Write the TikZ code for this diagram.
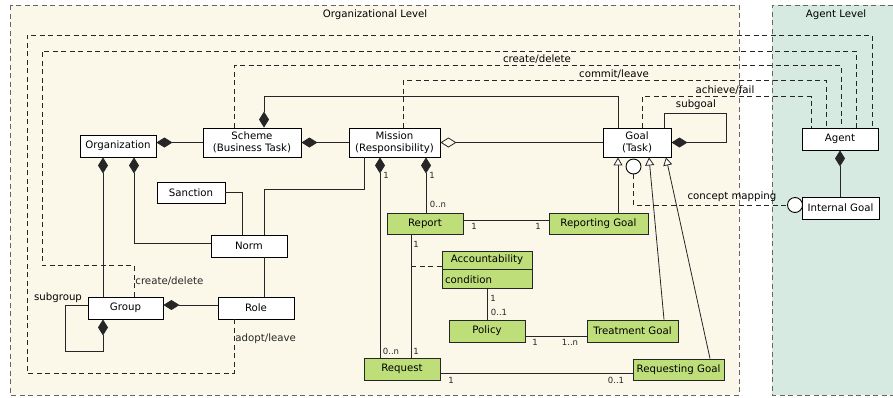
\documentclass[tikz,border=0pt]{standalone}
\usepackage{fontspec}
\setmainfont{DejaVu Sans}
\usetikzlibrary{arrows.meta}
\definecolor{orgbg}{RGB}{251,248,234}
\definecolor{agentbg}{RGB}{214,234,226}
\definecolor{umlgreen}{RGB}{190,222,122}
\begin{document}
\begin{tikzpicture}[x=1pt, y=-1pt, font=\fontsize{10.2}{12}\selectfont,
		box/.style={draw, line width=0.9pt, fill=white, inner sep=1pt, align=center},
		gbox/.style={box, fill=umlgreen, draw=black!85},
		lbl/.style={inner sep=1pt},
		mult/.style={inner sep=0.5pt, font=\fontsize{8.5}{9}\selectfont, black!85},
		link/.style={line width=0.8pt, black!85},
		dlink/.style={link, dash pattern=on 5pt off 3.5pt},
		frame/.style={line width=0.9pt, black!60, dash pattern=on 5pt off 3.5pt},
		comp/.style={link, arrows={Diamond[length=16pt,width=10pt]-}},
		agg/.style={link, arrows={Diamond[open,length=16pt,width=10pt]-}},
		inh/.style={link, arrows={-Triangle[length=8pt,width=9pt,fill=white]}},
		port/.style={circle, draw, line width=0.9pt, fill=white, minimum size=15pt, inner sep=0pt}]
		\useasboundingbox (0,0) rectangle (893,397);

		\fill[orgbg] (10,5) rectangle (739,395);
		\draw[frame] (10,5) rectangle (739,395);
		\fill[agentbg] (772,5) rectangle (893,395);
		\draw[frame] (893,5) -- (772,5) -- (772,395) -- (893,395);
		\node[lbl] (orglevel) at (375,15) {Organizational Level};
		\node[lbl] (agentlevel) at (836,15) {Agent Level};

		\node[box, minimum width=76pt, minimum height=22pt] (org) at (118,146) {Organization};
		\node[box, minimum width=98pt, minimum height=29pt] (scheme) at (252,142.5) {Scheme\\(Business Task)};
		\node[box, minimum width=91pt, minimum height=29pt] (mission) at (394.5,142.5) {Mission\\(Responsibility)};
		\node[box, minimum width=68pt, minimum height=29pt] (goal) at (637,142.5) {Goal\\(Task)};
		\node[box, minimum width=76pt, minimum height=22pt] (agent) at (840,139) {Agent};
		\node[box, minimum width=77pt, minimum height=22pt] (intgoal) at (840.5,208) {Internal Goal};
		\node[box, minimum width=68pt, minimum height=21pt] (sanction) at (191,192.5) {Sanction};
		\node[box, minimum width=76pt, minimum height=22pt] (norm) at (249,246) {Norm};
		\node[box, minimum width=75pt, minimum height=22pt] (group) at (125.5,308) {Group};
		\node[box, minimum width=76pt, minimum height=22pt] (role) at (256,308) {Role};
		\node[gbox, minimum width=76pt, minimum height=21pt] (report) at (425,223.5) {Report};
		\node[gbox, minimum width=99pt, minimum height=21pt] (repgoal) at (598.5,223.5) {Reporting Goal};
		\node[gbox, minimum width=90pt, minimum height=18pt] (acc) at (487,260) {Accountability};
		\node[gbox, minimum height=19pt, text width=84pt, inner xsep=3pt, align=left, anchor=north] (cond) at (acc.south) {condition};
		\node[gbox, minimum width=76pt, minimum height=22pt] (policy) at (487,331) {Policy};
		\node[gbox, minimum width=91pt, minimum height=22pt] (treatgoal) at (632.5,331) {Treatment Goal};
		\node[gbox, minimum width=76pt, minimum height=22pt] (request) at (402,369) {Request};
		\node[gbox, minimum width=91pt, minimum height=21pt] (reqgoal) at (678.5,369.5) {Requesting Goal};
		\node[port] (goalport) at (633.5,166.5) {};
		\node[port] (intport) at (795,205) {};

		\draw[comp] (scheme.west -| org.east) -- (scheme.west);
		\draw[comp] (scheme.east) -- (mission.west);
		\draw[agg] (mission.east) -- (goal.west);
		\draw[comp] ([xshift=12pt]scheme.north) -- ++(0,-31) -| ([xshift=-19pt]goal.north);
		\draw[comp] (goal.east) -| (726,113) -| ([xshift=27pt]goal.north);
		\node[lbl] (subgoal) at (696,105) {subgoal};
		\draw[comp] ([xshift=-15pt]org.south) -- ([xshift=-15pt]org.south |- group.north);
		\draw[comp] ([xshift=16pt]org.south) |- ([yshift=3pt]norm.west);
		\draw[link] (sanction.east) -| ([xshift=-7pt]norm.north);
		\draw[link] ([xshift=-30pt]mission.south) -- ++(0,32) -| ([xshift=15pt]norm.north);
		\draw[link] ([xshift=15pt]norm.south) -- ([xshift=15pt]norm.south |- role.north);
		\draw[comp] ([yshift=3pt]group.east) -- ([yshift=3pt]group.east -| role.west);
		\draw[comp] ([xshift=-22.5pt]group.south) |- (65,351) |- ([yshift=3pt]group.west);
		\node[lbl] (subgroup) at (58,298) {subgroup};
		\draw[comp] (agent.south) -- (agent.south |- intgoal.north);

		\draw[dlink] ([xshift=-22pt]role.south) -- ++(0,54) node[lbl, pos=0.35, right] (adopt) {adopt/leave} -| (27,35) -| ([xshift=32pt]agent.north);
		\draw[dlink] ([xshift=8.5pt]group.north) -- ++(0,-31) node[lbl, pos=0.5, right] (creategroup) {create/delete} -| (42,51) -| ([xshift=16pt]agent.north);
		\draw[dlink] ([xshift=-18pt]scheme.north) -- ++(0,-62) -| ([xshift=1pt]agent.north);
		\node[lbl] (createscheme) at (537,59) {create/delete};
		\draw[dlink] ([xshift=8.5pt]mission.north) -- ++(0,-47) -| ([xshift=-14pt]agent.north);
		\node[lbl] (commit) at (614,74) {commit/leave};
		\draw[dlink] ([xshift=5pt]goal.north) -- ++(0,-31) -| ([xshift=-29pt]agent.north);
		\node[lbl] (achieve) at (725,90) {achieve/fail};
		\draw[dlink] (goalport.south) |- (intport.west);
		\node[lbl] (mapping) at (732,197) {concept mapping};

		\draw[inh] ([xshift=19.5pt]repgoal.north) -- ([xshift=19.5pt]repgoal.north |- goal.south);
		\draw[inh] ([xshift=31.5pt]treatgoal.north) -- ([xshift=12pt]goal.south);
		\draw[inh] ([xshift=31.5pt]reqgoal.north) -- ([xshift=29pt]goal.south);

		\draw[comp] ([xshift=-14.5pt]mission.south) -- ([xshift=-14.5pt]mission.south |- request.north);
		\draw[comp] ([xshift=31.5pt]mission.south) -- ([xshift=31.5pt]mission.south |- report.north);
		\node[mult] (m1) at (386,175) {1};
		\node[mult] (m2) at (391,351) {0..n};
		\node[mult] (m3) at (432,175) {1};
		\node[mult] (m4) at (438,204) {0..n};
		\draw[link] ([yshift=3.5pt]report.east) -- ([yshift=3.5pt]report.east -| repgoal.west);
		\node[mult] (m5) at (474,226) {1};
		\node[mult] (m6) at (538,226) {1};
		\draw[link] ([xshift=-14pt]report.south) -- ([xshift=-14pt]report.south |- request.north);
		\node[mult] (m7) at (416,244) {1};
		\node[mult] (m8) at (416,351) {1};
		\coordinate (accpt) at (411,266);
		\draw[dlink] (accpt) -- (accpt -| acc.west);
		\draw[link] (cond.south) -- (policy.north);
		\node[mult] (m9) at (493,298) {1};
		\node[mult] (m10) at (499,312) {0..1};
		\draw[link] ([yshift=-5pt]policy.east) -- ([yshift=-5pt]policy.east -| treatgoal.west);
		\node[mult] (m11) at (535,342) {1};
		\node[mult] (m12) at (570,342) {1..n};
		\draw[link] ([yshift=-4pt]request.east) -- ([yshift=-4pt]request.east -| reqgoal.west);
		\node[mult] (m13) at (451,380) {1};
		\node[mult] (m14) at (616,380) {0..1};
	\end{tikzpicture}
\end{document}
